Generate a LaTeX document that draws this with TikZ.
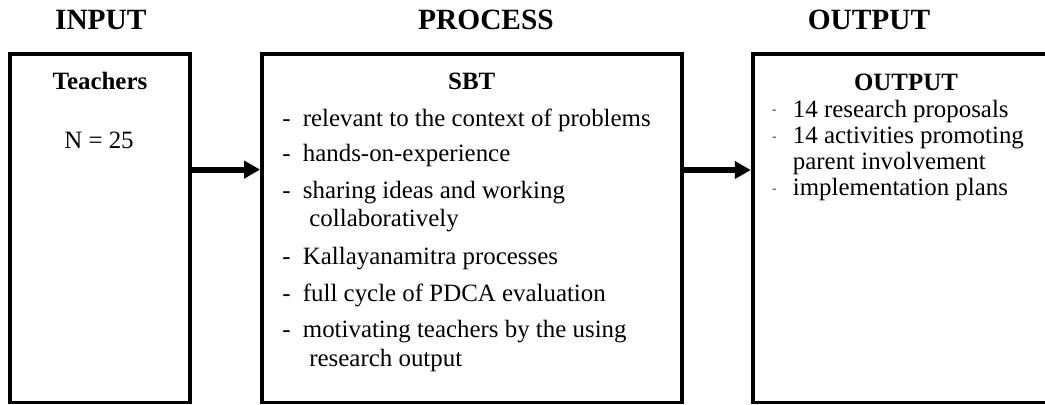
\documentclass[tikz,border=0pt]{standalone}
\usepackage{fontspec}
\setmainfont{Liberation Serif}
\usetikzlibrary{arrows.meta}
\tikzset{
  frame/.style={draw, line width=1.9pt, rectangle, inner sep=0pt},
  heading/.style={font=\fontsize{14.7}{16}\selectfont\bfseries, anchor=base, inner sep=0pt},
  boxhead/.style={font=\fontsize{12.45}{14}\selectfont\bfseries, anchor=base, inner sep=0pt},
  body/.style={font=\fontsize{12.45}{14}\selectfont, anchor=base west, inner sep=0pt},
  smalldash/.style={font=\fontsize{6}{6}\selectfont, anchor=base west, inner sep=0pt},
  flow/.style={line width=3pt, -{Triangle[length=8pt,width=8.5pt]}},
}
\begin{document}
\begin{tikzpicture}[x=0.5pt,y=-0.5pt]
\clip (0,0) rectangle (1045,404);
\fill[white] (0,0) rectangle (1045,404);

% column titles
\node[heading] (tin)  at (100.8,29.3) {INPUT};
\node[heading] (tpro) at (486,29.3)   {PROCESS};
\node[heading] (tout) at (869,29.3)   {OUTPUT};

% the three frames
\node[frame, minimum width=90pt,    minimum height=174.1pt] (input)   at (100,228.4)    {};
\node[frame, minimum width=210pt,   minimum height=174.1pt] (process) at (472,228.4)    {};
\node[frame, minimum width=163.65pt,minimum height=174.1pt] (output)  at (916.35,228.4) {};

% connectors
\draw[flow] ([yshift=29.4pt]input.east) -- ([yshift=29.4pt]process.west);
\draw[flow] ([yshift=29.2pt]process.east) -- ([yshift=29.2pt]output.west);

% input frame
\node[boxhead] (teach) at (100,89.3) {Teachers};
\node[boxhead, font=\fontsize{12.45}{14}\selectfont] (nval) at (99,148.3) {N = 25};

% process frame
\node[boxhead] (sbt) at (471.7,89.3) {SBT};
\node[body] (d1) at (282,126)   {-};
\node[body] (p1) at (302.5,126) {relevant to the context of problems};
\node[body] (d2) at (282,161.7) {-};
\node[body] (p2) at (302.5,161.7) {hands-on-experience};
\node[body] (d3) at (282,198)   {-};
\node[body] (p3) at (302.5,198) {sharing ideas and working};
\node[body] (p3b) at (309,226.7) {collaboratively};
\node[body] (d4) at (282,264)   {-};
\node[body] (p4) at (302.5,264) {Kallayanamitra processes};
\node[body] (d5) at (282,301.7) {-};
\node[body] (p5) at (302.5,301.7) {full cycle of PDCA evaluation};
\node[body] (d6) at (282,337.7) {-};
\node[body] (p6) at (302.5,337.7) {motivating teachers by the using};
\node[body] (p6b) at (309,366.7) {research output};

% output frame
\node[boxhead] (outh) at (906,90) {OUTPUT};
\node[smalldash] (e1) at (772,113.5) {-};
\node[body] (o1) at (792.5,117) {14 research proposals};
\node[smalldash] (e2) at (772,140.5) {-};
\node[body] (o2) at (792.5,143.5) {14 activities promoting};
\node[body] (o2b) at (792.5,169.5) {parent involvement};
\node[smalldash] (e3) at (772,192.5) {-};
\node[body] (o3) at (792.5,195.5) {implementation plans};
\end{tikzpicture}
\end{document}
